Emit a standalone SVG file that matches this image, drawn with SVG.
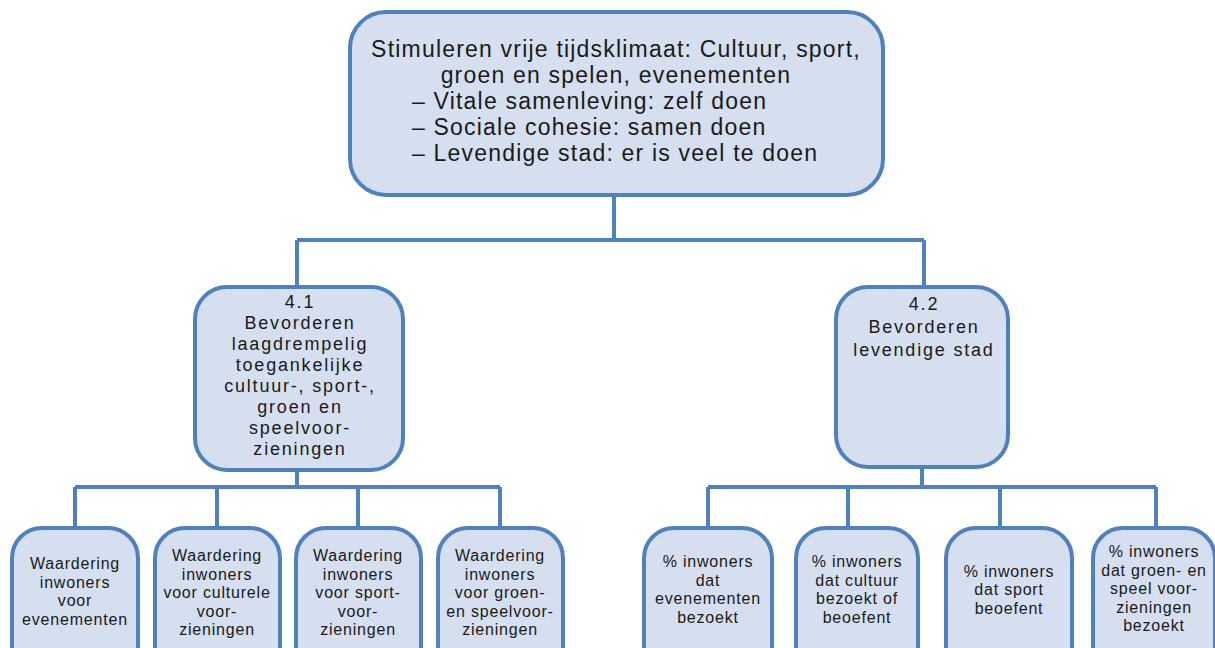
<svg xmlns="http://www.w3.org/2000/svg" width="1215" height="648" viewBox="0 0 1215 648">
<style>
.box{fill:#D5DFEF;stroke:#4F81BD;stroke-width:4}
.ln{fill:none;stroke:#4F81BD;stroke-width:4}
text{font-family:"Liberation Sans",Arial,sans-serif;fill:#1a1a1a;text-anchor:middle}
.t1{font-size:23px;letter-spacing:1.2px}
.t2{font-size:18px;letter-spacing:1.8px}
.t3{font-size:16px;letter-spacing:0.8px}
.l{text-anchor:start}
</style>
<rect width="1215" height="648" fill="#ffffff"/>
<g id="connectors">
<path class="ln" d="M614 195V240M297 240H924M297 240V287M924 240V287"/>
<path class="ln" d="M297 470V487M75 487H500M75 487V528M217 487V528M358 487V528M500 487V528"/>
<path class="ln" d="M922 467V487M708 487H1156M708 487V528M848 487V528M1000 487V528M1156 487V528"/>
</g>
<g id="top">
<rect class="box" x="350" y="12" width="533" height="183" rx="36"/>
<text class="t1"><tspan x="616" y="57">Stimuleren vrije tijdsklimaat: Cultuur, sport,</tspan><tspan x="616" y="83">groen en spelen, evenementen</tspan><tspan class="l" x="412" y="109">– Vitale samenleving: zelf doen</tspan><tspan class="l" x="412" y="135">– Sociale cohesie: samen doen</tspan><tspan class="l" x="412" y="161">– Levendige stad: er is veel te doen</tspan></text>
</g>
<g id="n41">
<rect class="box" x="195" y="287" width="208" height="183" rx="32"/>
<text class="t2"><tspan x="300" y="308">4.1</tspan><tspan x="300" y="329">Bevorderen</tspan><tspan x="300" y="350">laagdrempelig</tspan><tspan x="300" y="371">toegankelijke</tspan><tspan x="300" y="392">cultuur-, sport-,</tspan><tspan x="300" y="413">groen en</tspan><tspan x="300" y="434">speelvoor-</tspan><tspan x="300" y="455">zieningen</tspan></text>
</g>
<g id="n42">
<rect class="box" x="836" y="287" width="172" height="180" rx="32"/>
<text class="t2"><tspan x="924" y="310">4.2</tspan><tspan x="924" y="333">Bevorderen</tspan><tspan x="924" y="356">levendige stad</tspan></text>
</g>
<g id="b1">
<rect class="box" x="12" y="528" width="126" height="150" rx="30"/>
<text class="t3"><tspan x="75" y="569">Waardering</tspan><tspan x="75" y="587.5">inwoners</tspan><tspan x="75" y="606">voor</tspan><tspan x="75" y="624.5">evenementen</tspan></text>
</g>
<g id="b2">
<rect class="box" x="155" y="528" width="125" height="150" rx="30"/>
<text class="t3"><tspan x="217" y="561">Waardering</tspan><tspan x="217" y="579.5">inwoners</tspan><tspan x="217" y="598">voor culturele</tspan><tspan x="217" y="616.5">voor-</tspan><tspan x="217" y="635">zieningen</tspan></text>
</g>
<g id="b3">
<rect class="box" x="296" y="528" width="125" height="150" rx="30"/>
<text class="t3"><tspan x="358" y="561">Waardering</tspan><tspan x="358" y="579.5">inwoners</tspan><tspan x="358" y="598">voor sport-</tspan><tspan x="358" y="616.5">voor-</tspan><tspan x="358" y="635">zieningen</tspan></text>
</g>
<g id="b4">
<rect class="box" x="438" y="528" width="125" height="150" rx="30"/>
<text class="t3"><tspan x="500" y="561">Waardering</tspan><tspan x="500" y="579.5">inwoners</tspan><tspan x="500" y="598">voor groen-</tspan><tspan x="500" y="616.5">en speelvoor-</tspan><tspan x="500" y="635">zieningen</tspan></text>
</g>
<g id="b5">
<rect class="box" x="644" y="528" width="128" height="150" rx="30"/>
<text class="t3"><tspan x="708" y="567">% inwoners</tspan><tspan x="708" y="585.5">dat</tspan><tspan x="708" y="604">evenementen</tspan><tspan x="708" y="622.5">bezoekt</tspan></text>
</g>
<g id="b6">
<rect class="box" x="796" y="528" width="122" height="150" rx="30"/>
<text class="t3"><tspan x="857" y="567">% inwoners</tspan><tspan x="857" y="585.5">dat cultuur</tspan><tspan x="857" y="604">bezoekt of</tspan><tspan x="857" y="622.5">beoefent</tspan></text>
</g>
<g id="b7">
<rect class="box" x="946" y="528" width="126" height="150" rx="30"/>
<text class="t3"><tspan x="1009" y="576.5">% inwoners</tspan><tspan x="1009" y="595">dat sport</tspan><tspan x="1009" y="613.5">beoefent</tspan></text>
</g>
<g id="b8">
<rect class="box" x="1093" y="528" width="122" height="150" rx="30"/>
<text class="t3"><tspan x="1154" y="557">% inwoners</tspan><tspan x="1154" y="575.5">dat groen- en</tspan><tspan x="1154" y="594">speel voor-</tspan><tspan x="1154" y="612.5">zieningen</tspan><tspan x="1154" y="631">bezoekt</tspan></text>
</g>
</svg>
